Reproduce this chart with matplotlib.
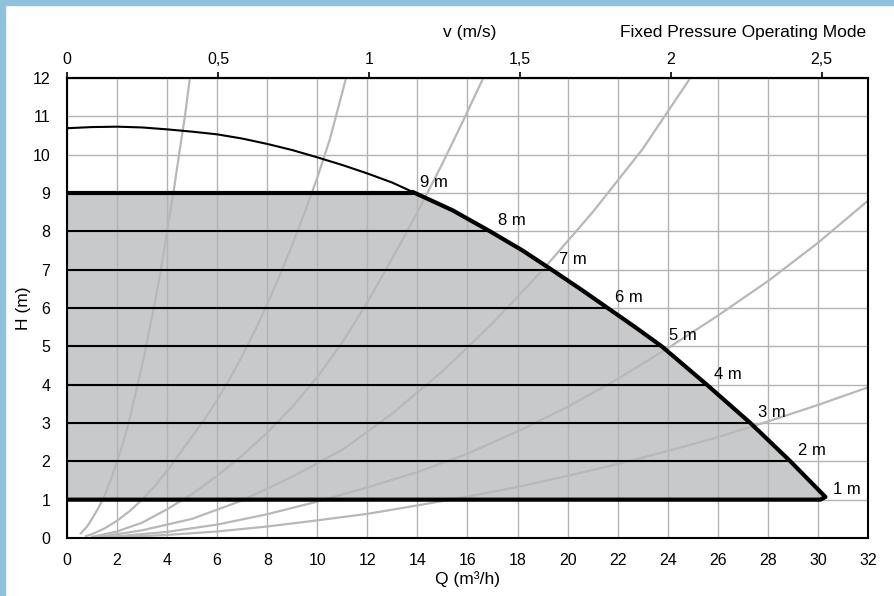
import matplotlib.pyplot as plt
from matplotlib.patches import Rectangle

plt.rcParams['font.family'] = ['Liberation Sans', 'DejaVu Sans']

# pump curve, thin part above 9 m (Q m3/h, H m)
max_q = [0.0, 1.0, 2.0, 3.0, 4.0, 5.0, 6.0, 7.0, 8.0, 9.0, 10.0, 11.0, 12.0, 13.0, 13.8]
max_h = [10.69, 10.72, 10.73, 10.71, 10.66, 10.6, 10.53, 10.42, 10.28, 10.12, 9.93, 9.73, 9.51, 9.27, 9.03]

# operating limit (heavy outline)
lim_q = [13.8, 15.4, 16.9, 18.2, 19.36, 20.5, 21.6, 22.7, 23.76, 25.56, 27.3, 28.9, 30.3]
lim_h = [9.03, 8.55, 8.0, 7.5, 7.0, 6.5, 6.0, 5.5, 5.0, 4.0, 3.0, 2.0, 1.07]

# constant pressure set points
set_h = [9, 8, 7, 6, 5, 4, 3, 2, 1]
set_q = [13.8, 16.9, 19.36, 21.6, 23.76, 25.56, 27.3, 28.9, 30.3]
set_labels = ["9 m", "8 m", "7 m", "6 m", "5 m", "4 m", "3 m", "2 m", "1 m"]

# system curves (grey)
sys_a_q = [0.55, 0.8, 1.0, 1.25, 1.5, 1.75, 2.0, 2.25, 2.5, 2.75, 3.0, 3.25, 3.5, 3.75, 4.0, 4.25, 4.5, 4.71, 4.91]
sys_a_h = [0.12, 0.3, 0.5, 0.78, 1.1, 1.52, 2.0, 2.5, 3.1, 3.8, 4.5, 5.3, 6.1, 7.0, 8.0, 9.0, 10.1, 11.0, 12.0]
sys_b_q = [0.76, 1.0, 1.5, 2.0, 2.5, 3.0, 3.5, 4.0, 4.5, 5.0, 5.5, 6.0, 6.5, 7.0, 7.5, 8.0, 8.5, 9.0, 9.5, 10.0, 10.5, 11.15]
sys_b_h = [0.05, 0.1, 0.25, 0.45, 0.7, 1.0, 1.35, 1.75, 2.2, 2.65, 3.1, 3.6, 4.15, 4.75, 5.4, 6.1, 6.85, 7.65, 8.5, 9.4, 10.4, 12.0]
sys_c_q = [1.0, 2.0, 3.0, 4.0, 5.0, 6.0, 7.0, 8.0, 9.0, 10.0, 11.0, 12.0, 13.0, 14.0, 15.0, 15.8, 16.63]
sys_c_h = [0.03, 0.17, 0.4, 0.75, 1.15, 1.62, 2.15, 2.75, 3.42, 4.2, 5.1, 6.15, 7.3, 8.5, 9.77, 10.85, 12.0]
sys_d_q = [1.3, 3.0, 5.0, 7.0, 9.0, 11.0, 13.0, 15.0, 17.0, 19.0, 21.0, 23.0, 24.9]
sys_d_h = [0.03, 0.2, 0.5, 0.98, 1.6, 2.3, 3.25, 4.35, 5.6, 6.99, 8.5, 10.15, 12.0]
sys_e_q = [1.6, 4.0, 6.0, 8.0, 10.0, 12.0, 14.0, 16.0, 18.0, 20.0, 22.0, 24.0, 26.0, 28.0, 30.0, 32.0]
sys_e_h = [0.02, 0.16, 0.35, 0.62, 0.95, 1.32, 1.72, 2.2, 2.78, 3.42, 4.15, 4.95, 5.8, 6.7, 7.7, 8.8]
sys_f_q = [2.0, 4.0, 6.0, 8.0, 10.0, 12.0, 14.0, 16.0, 18.0, 20.0, 22.0, 24.0, 26.0, 28.0, 30.0, 32.0]
sys_f_h = [0.02, 0.08, 0.17, 0.3, 0.46, 0.63, 0.85, 1.08, 1.33, 1.62, 1.93, 2.27, 2.63, 3.04, 3.47, 3.93]
systems = [(sys_a_q, sys_a_h), (sys_b_q, sys_b_h), (sys_c_q, sys_c_h),
           (sys_d_q, sys_d_h), (sys_e_q, sys_e_h), (sys_f_q, sys_f_h)]

q_ticks = list(range(0, 33, 2))
h_ticks = list(range(0, 13))
v_ticks = [0, 0.5, 1, 1.5, 2, 2.5]
v_labels = ["0", "0,5", "1", "1,5", "2", "2,5"]
q_per_v = 12.06

fs = 11.5
fs_lab = 12.5

fig = plt.figure(figsize=(8.95, 5.96), dpi=100)
fig.patches.append(Rectangle((0, 0), 5 / 895, 1, transform=fig.transFigure,
                             color="#8fc1dd", zorder=0))
fig.patches.append(Rectangle((0, 1 - 5 / 596), 1, 5 / 596, transform=fig.transFigure,
                             color="#8fc1dd", zorder=0))
ax = fig.add_axes([67 / 895, 1 - 538 / 596, (868 - 67) / 895, (538 - 78) / 596])

# shaded operating area
poly_q = [0] + lim_q + [30.1, 0]
poly_h = [9] + lim_h + [1.0, 1.0]
ax.fill(poly_q, poly_h, color="#c8c9cb", lw=0, zorder=0.2)

for q, h in systems:
    ax.plot(q, h, color="#b8b8b8", lw=1.6, zorder=2, solid_joinstyle="round")

ax.plot(max_q, max_h, color="black", lw=1.5, zorder=3)
for q, h in zip(set_q[1:-1], set_h[1:-1]):
    ax.plot([0, q], [h, h], color="black", lw=1.5, zorder=3)
ax.plot([0, 13.8] + lim_q + [30.1, 0], [9, 9] + lim_h + [1.0, 1.0],
        color="black", lw=3, zorder=4, solid_joinstyle="round", solid_capstyle="butt")

for q, h, s in zip(set_q, set_h, set_labels):
    ax.text(q + 0.3, h + 0.27, s, fontsize=12, ha="left", va="center", zorder=5)

ax.set_xlim(0, 32)
ax.set_ylim(0, 12)
ax.set_xticks(q_ticks)
ax.set_yticks(h_ticks)
ax.grid(True, color="#b3b3b3", lw=1)
ax.set_axisbelow(True)
ax.tick_params(length=0, labelsize=fs)
ax.tick_params(axis="x", pad=11)
ax.tick_params(axis="y", pad=12)
for sp in ax.spines.values():
    sp.set_linewidth(1.5)

top = ax.secondary_xaxis("top", functions=(lambda q: q / q_per_v, lambda v: v * q_per_v))
top.set_xticks(v_ticks)
top.set_xticklabels(v_labels)
top.tick_params(direction="out", length=4, width=1.2, labelsize=fs, pad=4)
top.spines["top"].set_linewidth(1.5)

ax.set_xlabel("Q (m³/h)", fontsize=fs_lab, labelpad=2)
ax.set_ylabel("H (m)", fontsize=fs_lab, labelpad=1)
fig.text(470 / 895, 1 - 32 / 596, "v (m/s)", fontsize=fs_lab, ha="center", va="center")
fig.text(866 / 895, 1 - 32 / 596, "Fixed Pressure Operating Mode", fontsize=fs_lab,
         ha="right", va="center")

fig.savefig("out.png", dpi=100)
